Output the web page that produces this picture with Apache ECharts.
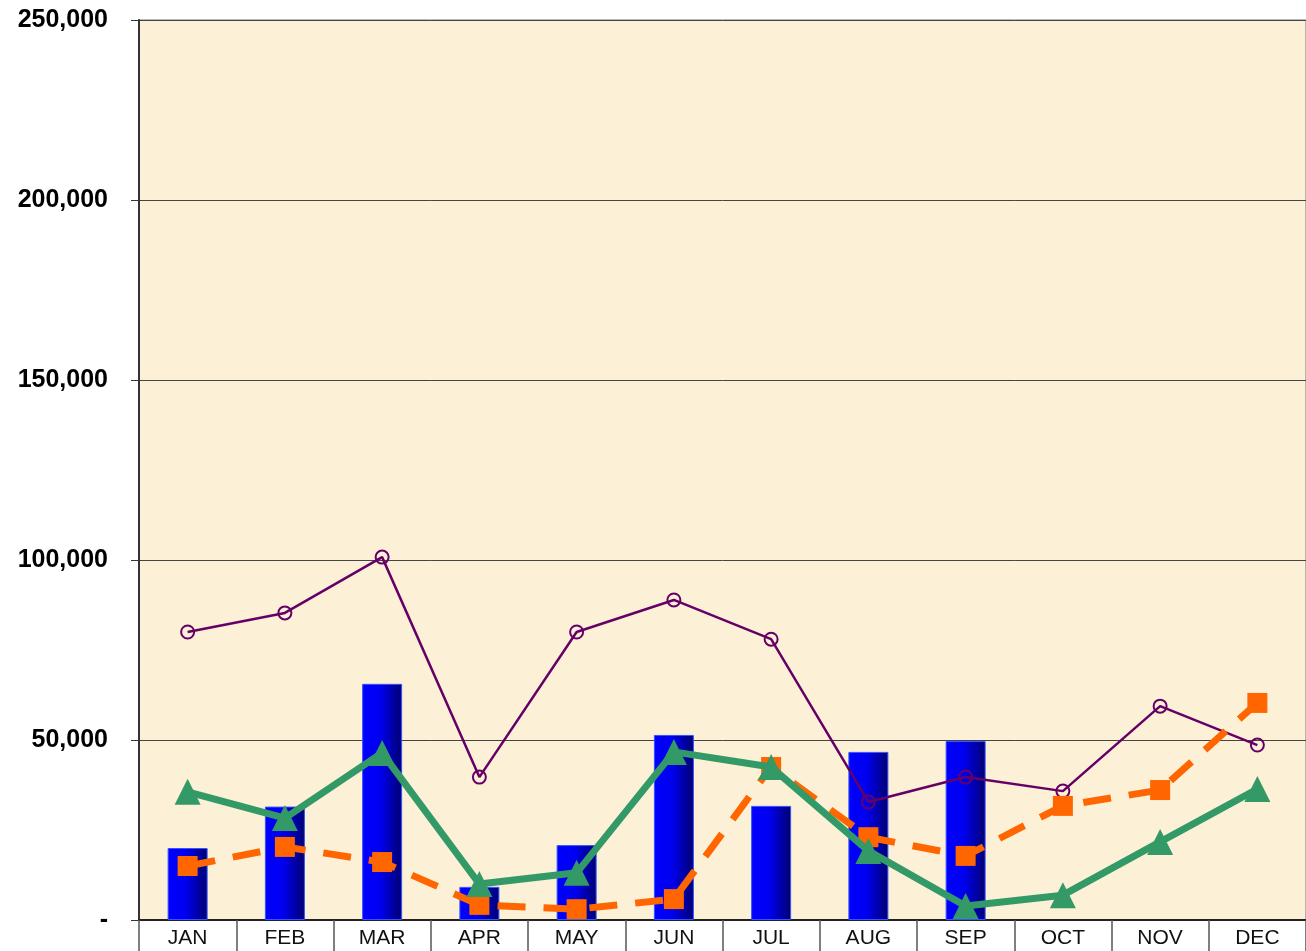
<!DOCTYPE html>
<html>
<head>
<meta charset="utf-8">
<script src="https://cdn.jsdelivr.net/npm/echarts@6/dist/echarts.min.js"></script>
<style>
html,body{margin:0;padding:0;background:#fff;}
#c{width:1306px;height:951px;}
</style>
</head>
<body>
<div id="c"></div>
<script>
const categories = ['JAN','FEB','MAR','APR','MAY','JUN','JUL','AUG','SEP','OCT','NOV','DEC'];
const barValues = [20000, 31500, 65600, 9200, 20800, 51400, 31700, 46700, 49700, null, null, null];
const purpleValues = [80000, 85300, 100800, 39700, 80000, 88900, 78000, 32800, 39700, 35800, 59400, 48600];
const orangeValues = [15000, 20300, 16100, 4200, 3000, 5800, 42500, 23000, 17800, 31700, 36100, 60300];
const greenValues = [35600, 28300, 46400, 10000, 13100, 46700, 42500, 19200, 3900, 6900, 21700, 36400];
const yTicks = [0, 50000, 100000, 150000, 200000, 250000];

const chart = echarts.init(document.getElementById('c'));
const font = 'Liberation Sans, Arial, sans-serif';
chart.setOption({
  animation: false,
  backgroundColor: '#ffffff',
  grid: {
    left: 139, right: 0, top: 20, bottom: 31,
    show: true, backgroundColor: '#fcf0d7', borderColor: '#777', borderWidth: 1
  },
  xAxis: {
    type: 'category',
    data: categories,
    boundaryGap: true,
    axisLine: { lineStyle: { color: '#222', width: 2 } },
    axisTick: { show: true, length: 31, lineStyle: { color: '#555', width: 1.5 } },
    axisLabel: { fontFamily: font, fontSize: 21, color: '#111', margin: 8 }
  },
  yAxis: {
    type: 'value',
    min: yTicks[0], max: yTicks[yTicks.length - 1], interval: 50000,
    axisLine: { show: true, lineStyle: { color: '#333', width: 2 } },
    axisTick: { show: true, length: 8, lineStyle: { color: '#333' } },
    splitLine: { lineStyle: { color: '#444', width: 1 } },
    axisLabel: {
      fontFamily: font, fontSize: 25, fontWeight: 'bold', color: '#000', margin: 31,
      formatter: v => v === 0 ? '-' : v.toLocaleString('en-US')
    }
  },
  series: [
    {
      type: 'bar', data: barValues, barWidth: 40, z: 2,
      itemStyle: {
        color: new echarts.graphic.LinearGradient(0, 0, 1, 0, [
          { offset: 0, color: '#0000ff' },
          { offset: 0.45, color: '#0000f0' },
          { offset: 1, color: '#000070' }
        ]),
        borderColor: '#3355ff', borderWidth: 1
      }
    },
    {
      type: 'line', data: purpleValues, z: 3,
      lineStyle: { color: '#660066', width: 2.5 },
      symbol: 'circle', symbolSize: 13,
      itemStyle: { color: 'rgba(0,0,0,0)', borderColor: '#660066', borderWidth: 2 }
    },
    {
      type: 'line', data: orangeValues, z: 4,
      lineStyle: { color: '#ff6600', width: 7, type: [28, 18] },
      symbol: 'rect', symbolSize: 20,
      itemStyle: { color: '#ff6600' }
    },
    {
      type: 'line', data: greenValues, z: 5,
      lineStyle: { color: '#339966', width: 7 },
      symbol: 'triangle', symbolSize: 26,
      itemStyle: { color: '#339966' }
    }
  ]
});
</script>
</body>
</html>
